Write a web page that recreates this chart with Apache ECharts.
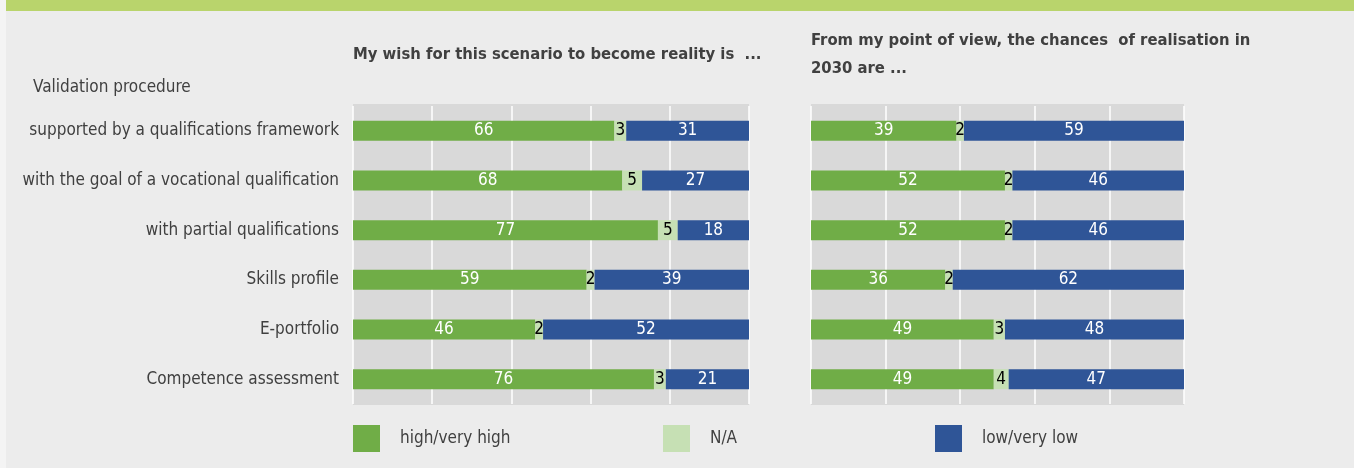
<!DOCTYPE html>
<html>
<head>
<meta charset="utf-8">
<script src="https://cdn.jsdelivr.net/npm/echarts@6/dist/echarts.min.js"></script>
<style>
  html, body { margin: 0; padding: 0; background: #ececec; }
  #chart { width: 1354px; height: 468px; }
</style>
</head>
<body>
<div id="chart"></div>
<script>
// Validation procedures (top to bottom)
const categories = [
  'supported by a qualifications framework',
  'with the goal of a vocational qualification',
  'with partial qualifications',
  'Skills profile',
  'E-portfolio',
  'Competence assessment'
];
const seriesNames = ['high/very high', 'N/A', 'low/very low'];

// "My wish for this scenario to become reality is ..."
const wishHigh = [66, 68, 77, 59, 46, 76];
const wishNA   = [3, 5, 5, 2, 2, 3];
const wishLow  = [31, 27, 18, 39, 52, 21];

// "From my point of view, the chances of realisation in 2030 are ..."
const chanceHigh = [39, 52, 52, 36, 49, 49];
const chanceNA   = [2, 2, 2, 2, 3, 4];
const chanceLow  = [59, 46, 46, 62, 48, 47];

const axisTicks = [0, 20, 40, 60, 80, 100];

const FONT = '"Liberation Sans Narrow", "DejaVu Sans Condensed", "Liberation Sans", sans-serif';
const TEXT = '#404040';
const COLORS = ['#70ad47', '#c6e0b4', '#2f5597'];

function barSeries(name, data, idx, color, labelColor) {
  return {
    name: name,
    type: 'bar',
    stack: 'g' + idx,
    xAxisIndex: idx,
    yAxisIndex: idx,
    barWidth: 20,
    data: data,
    itemStyle: { color: color },
    label: {
      show: true,
      position: 'inside',
      color: labelColor,
      fontFamily: FONT,
      fontSize: 17
    },
    labelLayout: { hideOverlap: false },
    emphasis: { disabled: true }
  };
}

function xAxis(idx) {
  return {
    type: 'value',
    gridIndex: idx,
    min: axisTicks[0],
    max: axisTicks[axisTicks.length - 1],
    interval: axisTicks[1] - axisTicks[0],
    axisLabel: { show: false },
    axisLine: { show: false },
    axisTick: { show: false },
    splitLine: { show: true, lineStyle: { color: '#ffffff', width: 1.5 } }
  };
}

function yAxis(idx, showLabels) {
  return {
    type: 'category',
    gridIndex: idx,
    inverse: true,
    data: categories,
    axisLine: { show: false },
    axisTick: { show: false },
    splitLine: { show: false },
    axisLabel: {
      show: showLabels,
      margin: 14,
      color: TEXT,
      fontFamily: FONT,
      fontSize: 17
    }
  };
}

const chart = echarts.init(document.getElementById('chart'), null, { renderer: 'canvas' });

chart.setOption({
  backgroundColor: '#ececec',
  animation: false,
  textStyle: { fontFamily: FONT },
  graphic: [
    { type: 'rect', z: -10, shape: { x: 0, y: 0, width: 6, height: 468 }, style: { fill: '#f4f4f4' } },
    { type: 'rect', z: -10, shape: { x: 6, y: 0, width: 1348, height: 11 }, style: { fill: '#b9d46c' } },
    // plot panels
    { type: 'rect', z: -10, shape: { x: 353, y: 104, width: 396, height: 301 }, style: { fill: '#d9d9d9' } },
    { type: 'rect', z: -10, shape: { x: 811, y: 104, width: 373, height: 301 }, style: { fill: '#d9d9d9' } },
    {
      type: 'text', left: 33, top: 79,
      style: { text: 'Validation procedure', fill: TEXT, font: '17px ' + FONT }
    }
  ],
  title: [
    {
      text: 'My wish for this scenario to become reality is  ...',
      left: 353, top: 46, padding: 0,
      textStyle: { color: TEXT, fontFamily: FONT, fontWeight: 'bold', fontSize: 16.5 }
    },
    {
      text: 'From my point of view, the chances  of realisation in\n2030 are ...',
      left: 811, top: 27, padding: 0,
      textStyle: { color: TEXT, fontFamily: FONT, fontWeight: 'bold', fontSize: 16.5, lineHeight: 28 }
    }
  ],
  grid: [
    { left: 353, top: 106, width: 396, height: 298, show: false },
    { left: 811, top: 106, width: 373, height: 298, show: false }
  ],
  xAxis: [xAxis(0), xAxis(1)],
  yAxis: [yAxis(0, true), yAxis(1, false)],
  legend: seriesNames.map((n, i) => ({
    data: [n],
    left: [353, 663, 935][i],
    top: 425,
    padding: 0,
    itemWidth: 27,
    itemHeight: 27,
    icon: 'rect',
    selectedMode: false,
    textStyle: { color: TEXT, fontFamily: FONT, fontSize: 17, padding: [0, 0, 0, 15] }
  })),
  series: [
    barSeries(seriesNames[0], wishHigh, 0, COLORS[0], '#ffffff'),
    barSeries(seriesNames[1], wishNA, 0, COLORS[1], '#000000'),
    barSeries(seriesNames[2], wishLow, 0, COLORS[2], '#ffffff'),
    barSeries(seriesNames[0], chanceHigh, 1, COLORS[0], '#ffffff'),
    barSeries(seriesNames[1], chanceNA, 1, COLORS[1], '#000000'),
    barSeries(seriesNames[2], chanceLow, 1, COLORS[2], '#ffffff')
  ]
});
</script>
</body>
</html>
